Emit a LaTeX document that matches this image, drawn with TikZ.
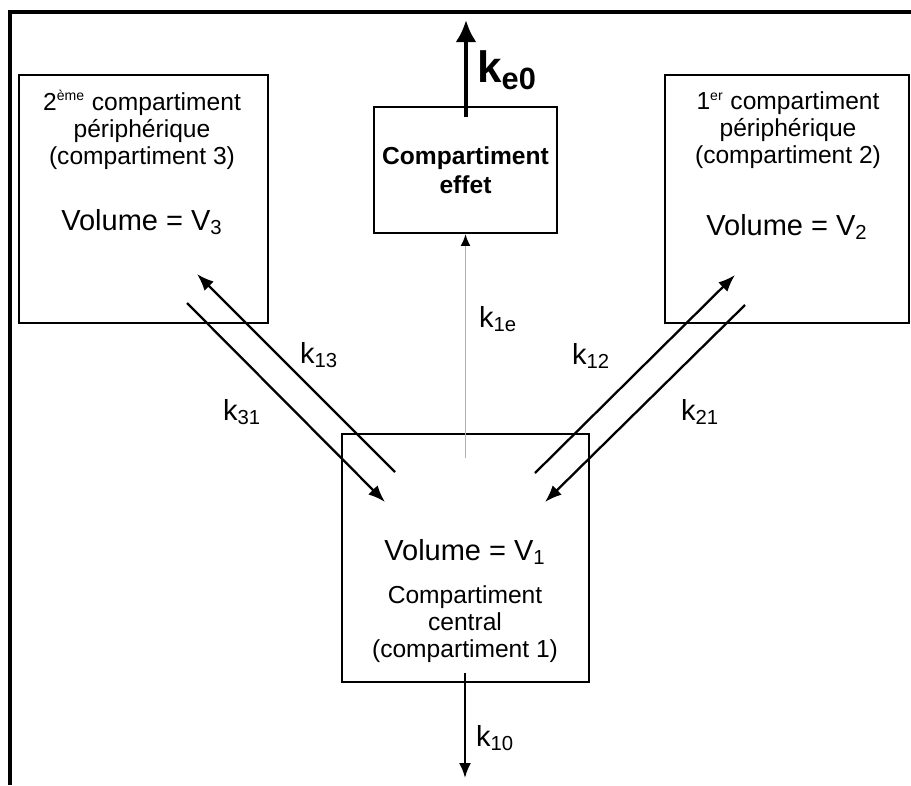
\documentclass[tikz,border=0pt]{standalone}
\usepackage{fontspec}
\setmainfont{Liberation Sans}
\usetikzlibrary{arrows.meta}

\begin{document}
\begin{tikzpicture}[x=0.02cm, y=-0.02cm,
    box/.style={draw, line width=1.1pt, inner sep=0pt},
    boxtext/.style={align=center, font=\fontsize{14}{15.4}\selectfont},
    voltext/.style={font=\fontsize{16.5}{18}\selectfont},
    rate/.style={font=\fontsize{16.5}{18}\selectfont},
    flow/.style={line width=1.3pt, -{Latex[length=0.34cm, width=0.26cm]}}]
    \useasboundingbox (0,0) rectangle (911,785);

    % cadre
    \draw[line width=2.8pt] (10,785) -- (10,12) -- (911,12);

    % compartiments
    \node[box, minimum width=4.98cm, minimum height=4.96cm] (comp3) at (143.5,199) {};
    \node[box, minimum width=4.88cm, minimum height=4.96cm] (comp2) at (787,199) {};
    \node[box, minimum width=3.66cm, minimum height=2.52cm, boxtext, font=\fontsize{14}{16.5}\selectfont\bfseries] (effet) at (465.5,170) {Compartiment\\effet};
    \node[box, minimum width=4.94cm, minimum height=4.96cm] (comp1) at (465.5,558) {};

    \node[boxtext] (txt3) at (142,130) {2\textsuperscript{\fontsize{8}{8}\selectfont ème} compartiment\\périphérique\\(compartiment 3)};
    \node[voltext] (vol3) at (142,222) {Volume = V\textsubscript{3}};
    \node[boxtext] (txt2) at (788,130) {1\textsuperscript{\fontsize{8}{8}\selectfont er} compartiment\\périphérique\\(compartiment 2)};
    \node[voltext] (vol2) at (787,227) {Volume = V\textsubscript{2}};
    \node[voltext] (vol1) at (465,552) {Volume = V\textsubscript{1}};
    \node[boxtext] (txt1) at (465,624) {Compartiment\\central\\(compartiment 1)};

    % bouts des fleches
    \coordinate (k13a) at (395,472);
    \coordinate (k13b) at (197,274);
    \coordinate (k31a) at (187,303);
    \coordinate (k31b) at (385,502);
    \coordinate (k12a) at (535,473);
    \coordinate (k12b) at (735,275);
    \coordinate (k21a) at (745,305);
    \coordinate (k21b) at (545,502);
    \coordinate (k1ea) at (465.5,458);
    \coordinate (ke0a) at (466,117);
    \coordinate (ke0b) at (466,20);
    \coordinate (k10a) at (465,673);
    \coordinate (k10b) at (465,778);

    \draw[flow] (k13a) -- (k13b);
    \draw[flow] (k31a) -- (k31b);
    \draw[flow] (k12a) -- (k12b);
    \draw[flow] (k21a) -- (k21b);
    \draw[line width=1.1pt, gray!60, -{Latex[length=0.24cm, width=0.2cm, color=black]}] (k1ea) -- (effet.south);
    \draw[line width=2.8pt, -{Latex[length=0.44cm, width=0.42cm]}] (ke0a) -- (ke0b);
    \draw[line width=1.3pt, -{Latex[length=0.3cm, width=0.24cm]}] (k10a) -- (k10b);

    % constantes
    \node[rate] (lk13) at (319,355) {k\textsubscript{13}};
    \node[rate] (lk31) at (242,412) {k\textsubscript{31}};
    \node[rate] (lk12) at (591,356) {k\textsubscript{12}};
    \node[rate] (lk21) at (700,412) {k\textsubscript{21}};
    \node[rate] (lk1e) at (498,319) {k\textsubscript{1e}};
    \node[rate] (lk10) at (495,738) {k\textsubscript{10}};
    \node[font=\fontsize{25}{28}\selectfont\bfseries] (lke0) at (507,70) {k\textsubscript{e0}};
\end{tikzpicture}
\end{document}
